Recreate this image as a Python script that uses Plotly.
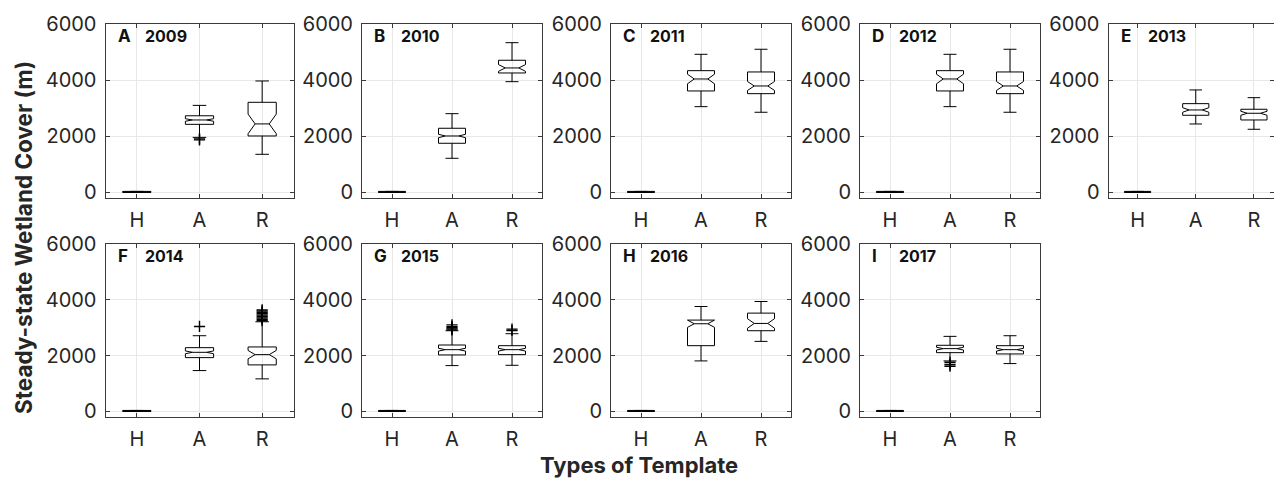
import plotly.graph_objects as go

W, H = 1274, 485

letters = ["A", "B", "C", "D", "E", "F", "G", "H", "I"]
years = ["2009", "2010", "2011", "2012", "2013", "2014", "2015", "2016", "2017"]
templates = ["H", "A", "R"]

# Box statistics per panel, ordered as templates H, A, R (metres)
upper_whisker = [
    [35, 3100, 3970], [35, 2805, 5335], [35, 4920, 5100], [35, 4920, 5100], [35, 3650, 3375],
    [35, 2713, 3213], [35, 2892, 2785], [35, 3760, 3939], [35, 2690, 2713],
]
q3 = [
    [35, 2730, 3210], [35, 2285, 4708], [35, 4337, 4291], [35, 4337, 4291], [35, 3162, 2962],
    [35, 2285, 2310], [35, 2380, 2356], [35, 3273, 3523], [35, 2370, 2356],
]
median = [
    [10, 2580, 2440], [10, 2010, 4434], [10, 4041, 3792], [10, 4041, 3792], [10, 2937, 2819],
    [10, 2118, 2035], [10, 2213, 2213], [10, 3142, 3153], [10, 2250, 2213],
]
q1 = [
    [0, 2425, 2010], [0, 1750, 4255], [0, 3614, 3518], [0, 3614, 3518], [0, 2748, 2580],
    [0, 1928, 1667], [0, 2024, 2035], [0, 2356, 2892], [0, 2106, 2060],
]
lower_whisker = [
    [0, 1960, 1357], [0, 1215, 3945], [0, 3055, 2855], [0, 3055, 2855], [0, 2438, 2249],
    [0, 1464, 1167], [0, 1642, 1653], [0, 1810, 2510], [0, 1810, 1714],
]
notch_half = [
    [0, 45, 350], [0, 60, 120], [0, 170, 160], [0, 170, 160], [0, 80, 70],
    [0, 50, 150], [0, 50, 50], [0, 130, 170], [0, 50, 50],
]

# Outlying runs drawn as '+' markers
outliers_A = [
    [1870, 1905], [], [], [], [],
    [3045], [2920, 2960, 3000, 3040, 3100], [], [1760, 1680, 1620],
]
outliers_R = [
    [], [], [], [], [],
    [3250, 3300, 3350, 3400, 3450, 3500, 3550, 3600, 3640],
    [2900, 2950], [], [],
]

y_ticks = [0, 2000, 4000, 6000]

# Panel geometry in pixels: (left, right) per column, (top, bottom) per row
col_px = [(105.5, 293.5), (362, 542), (611, 791), (860, 1040), (1108.5, 1283)]
row_px = [(24, 198), (244, 417)]

AXIS_COLOR = "#3a3a3a"
GRID_COLOR = "#e8e8e8"
TEXT_COLOR = "#262626"
FONT = "Inter, Liberation Sans, Arial, sans-serif"

fig = go.Figure()
layout = {}
annotations = []

for i in range(9):
    r, c = divmod(i, 5)
    left, right = col_px[c]
    top, bottom = row_px[r]
    unit = (right - left) / 3.0
    x_hi = 3.5
    if right > W:
        x_hi = 0.5 + (W - left) / unit
        right = W
    n = "" if i == 0 else str(i + 1)
    xa, ya = "x" + n, "y" + n

    fig.add_trace(go.Box(
        x=[1, 2, 3],
        q1=q1[i], median=median[i], q3=q3[i],
        lowerfence=lower_whisker[i], upperfence=upper_whisker[i],
        notched=True, notchspan=notch_half[i], notchwidth=0.25,
        width=0.45, whiskerwidth=0.48,
        line=dict(color="black", width=1),
        fillcolor="rgba(0,0,0,0)",
        boxpoints=False, showlegend=False, hoverinfo="skip",
        xaxis=xa, yaxis=ya,
    ))

    ox = [2] * len(outliers_A[i]) + [3] * len(outliers_R[i])
    oy = outliers_A[i] + outliers_R[i]
    if oy:
        fig.add_trace(go.Scatter(
            x=ox, y=oy, mode="markers",
            marker=dict(symbol="cross-thin", size=8, color="black",
                        line=dict(color="black", width=1.4)),
            showlegend=False, hoverinfo="skip", xaxis=xa, yaxis=ya,
        ))

    common = dict(
        showline=True, linecolor=AXIS_COLOR, linewidth=1, mirror="ticks",
        ticks="inside", ticklen=4, tickcolor=AXIS_COLOR, tickwidth=1,
        showgrid=True, gridcolor=GRID_COLOR, gridwidth=1, zeroline=False,
        tickfont=dict(family=FONT, size=20, color=TEXT_COLOR),
        fixedrange=True, automargin=False,
    )
    layout["xaxis" + n] = dict(
        common, domain=[left / W, right / W], anchor=ya,
        range=[0.5, x_hi], tickmode="array", tickvals=[1, 2, 3],
        ticktext=templates, ticklabelstandoff=4,
    )
    layout["yaxis" + n] = dict(
        common, domain=[1 - bottom / H, 1 - top / H], anchor=xa,
        range=[-200, 6000], tickmode="array", tickvals=y_ticks,
        ticktext=[str(v) for v in y_ticks], ticklabelstandoff=4,
    )

    annotations.append(dict(
        text="<b>" + letters[i] + "</b>", xref="paper", yref="paper",
        x=(left + 10) / W, y=1 - (top + 12) / H, xanchor="left", yanchor="middle",
        showarrow=False, font=dict(family=FONT, size=17, color="#111111"),
    ))
    annotations.append(dict(
        text="<b>" + years[i] + "</b>", xref="paper", yref="paper",
        x=(left + 37) / W, y=1 - (top + 12) / H, xanchor="left", yanchor="middle",
        showarrow=False, font=dict(family=FONT, size=16, color="#111111"),
    ))

annotations.append(dict(
    text="<b>Steady-state Wetland Cover (m)</b>", xref="paper", yref="paper",
    x=23 / W, y=1 - 238 / H, xanchor="center", yanchor="middle", textangle=-90,
    showarrow=False, font=dict(family=FONT, size=22.5, color=TEXT_COLOR),
))
annotations.append(dict(
    text="<b>Types of Template</b>", xref="paper", yref="paper",
    x=639 / W, y=1 - 465 / H, xanchor="center", yanchor="middle",
    showarrow=False, font=dict(family=FONT, size=22, color=TEXT_COLOR),
))

fig.update_layout(
    width=W, height=H, autosize=False,
    margin=dict(l=0, r=0, t=0, b=0, pad=0, autoexpand=False),
    paper_bgcolor="white", plot_bgcolor="white",
    annotations=annotations, **layout,
)

fig.write_html("out.html")
